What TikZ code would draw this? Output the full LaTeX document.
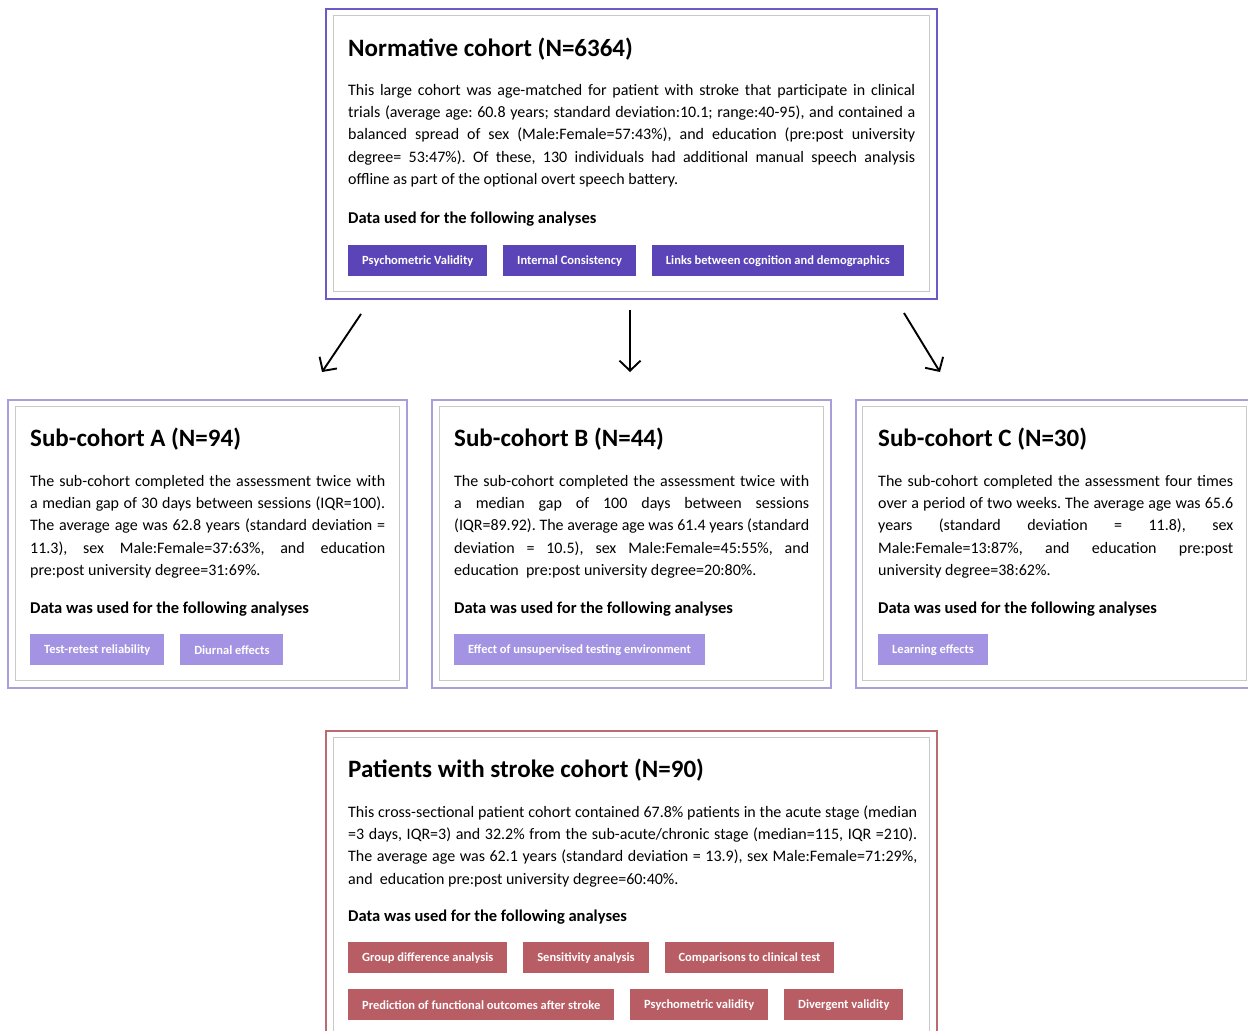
\documentclass[tikz,border=0pt]{standalone}
\usepackage{fontspec}
\setmainfont{Carlito}
\frenchspacing
\usetikzlibrary{positioning,arrows.meta}

\definecolor{normline}{HTML}{6C5AC8}
\definecolor{normtag}{HTML}{5A44B8}
\definecolor{subline}{HTML}{A99EDC}
\definecolor{subtag}{HTML}{A393E2}
\definecolor{strokeline}{HTML}{BA6A70}
\definecolor{stroketag}{HTML}{B95D64}
\definecolor{innergray}{HTML}{C9C9C9}

\tikzset{
    frame/.style={draw=#1, line width=2pt, anchor=north west, inner sep=0pt},
    innerframe/.style={draw=innergray, line width=1pt, anchor=north west, inner sep=0pt},
    boxtitle/.style={anchor=base west, inner sep=0pt, font=\fontsize{25}{29}\selectfont\bfseries},
    boxbody/.style={anchor=base west, inner sep=0pt, text width=#1, align=justify,
        font=\fontsize{16}{22.4}\selectfont},
    boxhead/.style={anchor=base west, inner sep=0pt, font=\fontsize{16.5}{20}\selectfont\bfseries},
    tag/.style={fill=#1, text=white, minimum height=31pt, inner xsep=14pt, inner ysep=0pt,
        font=\fontsize{12.5}{14}\selectfont\bfseries},
    flow/.style={-{Straight Barb[length=10pt,width=21pt]}, line width=1.9pt, black},
}

\begin{document}
\begin{tikzpicture}[x=1pt, y=-1pt, node distance=15.5pt]
    \useasboundingbox (0,0) rectangle (1248,1031);
    \clip (0,0) rectangle (1248,1031);

    %normative cohort
    \node[frame=normline, minimum width=611pt, minimum height=290pt] (norm) at (325,8) {};
    \node[innerframe, minimum width=596pt, minimum height=276pt] (normin) at (333,15) {};
    \node[boxtitle] (normtitle) at (348,56) {Normative cohort (N=6364)};
    \node[boxbody=567pt] (normtext) at (348,95) {This large cohort was age-matched for patient with stroke that participate in clinical\linebreak
        trials (average age: 60.8 years; standard deviation:10.1; range:40-95), and contained a\linebreak
        balanced spread of sex (Male:Female=57:43\%), and education (pre:post university\linebreak
        degree= 53:47\%). Of these, 130 individuals had additional manual speech analysis\linebreak
        offline as part of the optional overt speech battery.};
    \node[boxhead] (normhead) at (348,223) {Data used for the following analyses};
    \node[tag=normtag, anchor=north west] (n1) at (348,245) {Psychometric Validity};
    \node[tag=normtag, right=of n1] (n2) {Internal Consistency};
    \node[tag=normtag, right=of n2] (n3) {Links between cognition and demographics};

    %sub-cohort A
    \node[frame=subline, minimum width=399pt, minimum height=288pt] (suba) at (7,399) {};
    \node[innerframe, minimum width=384pt, minimum height=274pt] (subain) at (15,406) {};
    \node[boxtitle] (subatitle) at (30,446) {Sub-cohort A (N=94)};
    \node[boxbody=355pt] (subatext) at (30,486) {The sub-cohort completed the assessment twice with\linebreak
        a median gap of 30 days between sessions (IQR=100).\linebreak
        The average age was 62.8 years (standard deviation =\linebreak
        11.3), sex Male:Female=37:63\%, and education\linebreak
        pre:post university degree=31:69\%.};
    \node[boxhead] (subahead) at (30,613) {Data was used for the following analyses};
    \node[tag=subtag, anchor=north west] (a1) at (30,634) {Test-retest reliability};
    \node[tag=subtag, right=of a1] (a2) {Diurnal effects};

    %sub-cohort B
    \node[frame=subline, minimum width=399pt, minimum height=288pt] (subb) at (431,399) {};
    \node[innerframe, minimum width=384pt, minimum height=274pt] (subbin) at (439,406) {};
    \node[boxtitle] (subbtitle) at (454,446) {Sub-cohort B (N=44)};
    \node[boxbody=355pt] (subbtext) at (454,486) {The sub-cohort completed the assessment twice with\linebreak
        a median gap of 100 days between sessions\linebreak
        (IQR=89.92). The average age was 61.4 years (standard\linebreak
        deviation = 10.5), sex Male:Female=45:55\%, and\linebreak
        education\ \ pre:post university degree=20:80\%.};
    \node[boxhead] (subbhead) at (454,613) {Data was used for the following analyses};
    \node[tag=subtag, anchor=north west] (b1) at (454,634) {Effect of unsupervised testing environment};

    %sub-cohort C
    \node[frame=subline, minimum width=399pt, minimum height=288pt] (subc) at (855,399) {};
    \node[innerframe, minimum width=384pt, minimum height=274pt] (subcin) at (862,406) {};
    \node[boxtitle] (subctitle) at (878,446) {Sub-cohort C (N=30)};
    \node[boxbody=355pt] (subctext) at (878,486) {The sub-cohort completed the assessment four times\linebreak
        over a period of two weeks. The average age was 65.6\linebreak
        years (standard deviation = 11.8), sex\linebreak
        Male:Female=13:87\%, and education pre:post\linebreak
        university degree=38:62\%.};
    \node[boxhead] (subchead) at (878,613) {Data was used for the following analyses};
    \node[tag=subtag, anchor=north west] (c1) at (878,634) {Learning effects};

    %stroke cohort
    \node[frame=strokeline, minimum width=611pt, minimum height=330pt] (stroke) at (325,730) {};
    \node[innerframe, minimum width=596pt, minimum height=320pt] (strokein) at (333,737) {};
    \node[boxtitle] (stroketitle) at (348,777) {Patients with stroke cohort (N=90)};
    \node[boxbody=569pt] (stroketext) at (348,817) {This cross-sectional patient cohort contained 67.8\% patients in the acute stage (median\linebreak
        =3 days, IQR=3) and 32.2\% from the sub-acute/chronic stage (median=115, IQR =210).\linebreak
        The average age was 62.1 years (standard deviation = 13.9), sex Male:Female=71:29\%,\linebreak
        and\ \ education pre:post university degree=60:40\%.};
    \node[boxhead] (strokehead) at (348,921) {Data was used for the following analyses};
    \node[tag=stroketag, anchor=north west] (s1) at (348,942) {Group difference analysis};
    \node[tag=stroketag, right=of s1] (s2) {Sensitivity analysis};
    \node[tag=stroketag, right=of s2] (s3) {Comparisons to clinical test};
    \node[tag=stroketag, anchor=north west] (s4) at (348,989) {Prediction of functional outcomes after stroke};
    \node[tag=stroketag, right=of s4] (s5) {Psychometric validity};
    \node[tag=stroketag, right=of s5] (s6) {Divergent validity};

    %arrows
    \coordinate (toa) at (361,314);
    \coordinate (ata) at (322,372);
    \coordinate (tob) at (630,310);
    \coordinate (atb) at (630,372);
    \coordinate (toc) at (904,313);
    \coordinate (atc) at (940,372);
    \foreach \s/\e in {toa/ata, tob/atb, toc/atc}
        {%
            \draw[flow] (\s) -- (\e);
        }
\end{tikzpicture}
\end{document}
